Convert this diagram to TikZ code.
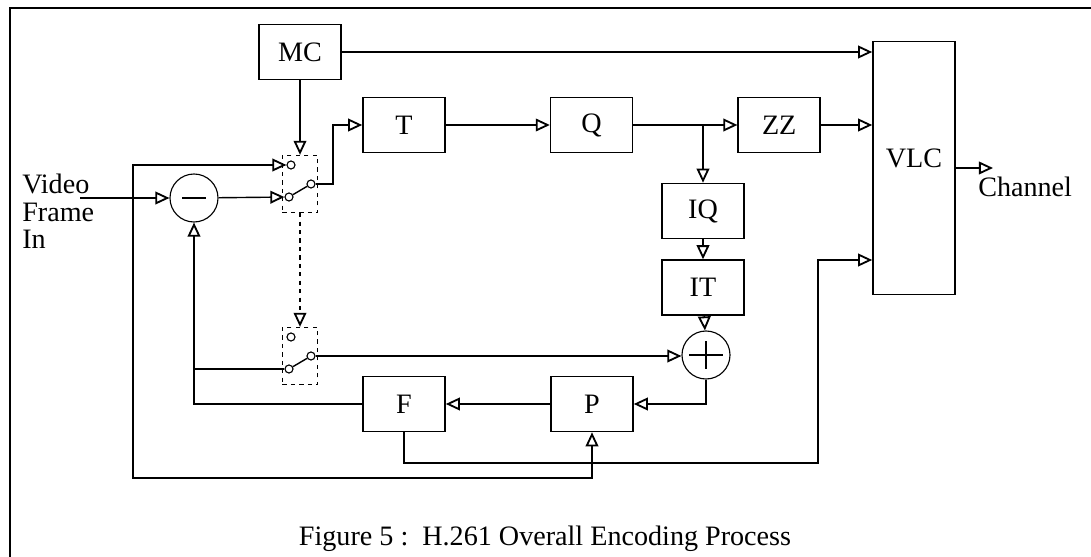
\documentclass[tikz,border=0pt]{standalone}
\usepackage{fontspec}
\setmainfont{Liberation Serif}
\usetikzlibrary{positioning,arrows.meta}

\begin{document}
\begin{tikzpicture}[x=0.025cm, y=-0.025cm, >={Triangle[open,length=10pt,width=9pt,line width=1.3pt]}, font=\fontsize{20}{22}\selectfont]
    \tikzstyle{box}=[rectangle, draw, line width=1.1pt, minimum width=2.05cm, minimum height=1.375cm, inner sep=0pt]
    \tikzstyle{sum}=[circle, draw, line width=0.8pt, minimum size=1.2cm, inner sep=0pt]
    \tikzstyle{switch}=[rectangle, draw, dashed, line width=0.9pt, minimum width=0.875cm, minimum height=1.425cm]
    \tikzstyle{contact}=[circle, draw, line width=0.8pt, minimum size=0.2cm, inner sep=0pt]
    \tikzstyle{line}=[line width=1pt]

    \useasboundingbox (0,0) rectangle (1091,557);
    \draw[line width=1.1pt] (10,557) -- (10,8) -- (1091,8);

    \node[box] (mc) at (300,52) {MC};
    \node[box] (t) at (404,125) {T};
    \node[box, right=2.6cm of t] (q) {Q};
    \node[box, right=2.6cm of q] (zz) {ZZ};
    \node[box, minimum height=6.325cm, text depth=0.5cm] (vlc) at (914,168) {VLC};
    \node[box] (iq) at (703,211) {IQ};
    \node[box, below=0.5cm of iq] (it) {IT};
    \node[sum] (plus) at (706,355) {};
    \node[sum] (minus) at (194,198) {};
    \node[switch] (sw1) at (300,184) {};
    \node[switch] (sw2) at (300,356) {};
    \node[box] (p) at (592,404) {P};
    \node[box] (f) at (404,404) {F};

    % switch contacts
    \foreach \s in {sw1,sw2} {
        \node[contact] (\s-a) at ([shift={(-9,-19)}]\s.center) {};
        \node[contact] (\s-b) at ([shift={(-11,13)}]\s.center) {};
        \node[contact] (\s-c) at ([shift={(11,0)}]\s.center) {};
        \draw[line] (\s-b) -- (\s-c);
    }

    \draw[line] (minus.center) ++(-12,0) -- ++(24,0);
    \draw[line] (plus.center) ++(-17,0) -- ++(34,0) (plus.center) ++(0,-14) -- ++(0,28);

    \node[anchor=north west, align=left, inner sep=0pt, font=\fontsize{20}{19.5}\selectfont] (video) at (22,174) {Video\\Frame\\In};
    \node[anchor=base west, inner sep=0pt] (chan) at (978,197) {Channel};
    \node[anchor=base, inner sep=0pt] (caption) at (545,545) {Figure 5 :\ \ H.261 Overall Encoding Process};

    \coordinate (vin) at (80,198);
    \coordinate (split) at (133,198);
    \coordinate (floor1) at (133,478);
    \coordinate (floor2) at (404,463);
    \coordinate (vtap) at (818,260);
    \coordinate (chanin) at (993,168);

    \draw[line,->] (vin) -- (minus);
    \draw[line,->] (split) |- (sw1-a);
    \draw[line,->] (split) -- (floor1) -| (p);
    \draw[line,->] (minus) -- (sw1-b);
    \draw[line,->] (sw1-c) -- ++(22,0) |- (t);
    \draw[line,->] (mc) -- (sw1);
    \draw[line,->] (mc.east) -- (mc.east -| vlc.west);
    \draw[line,->] (t) -- (q);
    \draw[line,->] (q) -- (zz);
    \draw[line,->] (q.east -| iq) -- (iq);
    \draw[line,->] (zz) -- (zz -| vlc.west);
    \draw[line,->] (iq) -- (it);
    \draw[line,->] (it) -- (plus);
    \draw[line,->, dashed] (sw1) -- (sw2);
    \draw[line,->] (sw2-c) -- (sw2-c -| plus.west);
    \draw[line,->] (plus) |- (p);
    \draw[line,->] (p) -- (f);
    \draw[line,->] (f) -| (minus);
    \draw[line] (minus |- sw2-b) -- (sw2-b);
    \draw[line,->] (f) |- (floor2 -| vtap) -- (vtap) -- (vtap -| vlc.west);
    \draw[line,->] (vlc) -- (chanin);
\end{tikzpicture}
\end{document}
